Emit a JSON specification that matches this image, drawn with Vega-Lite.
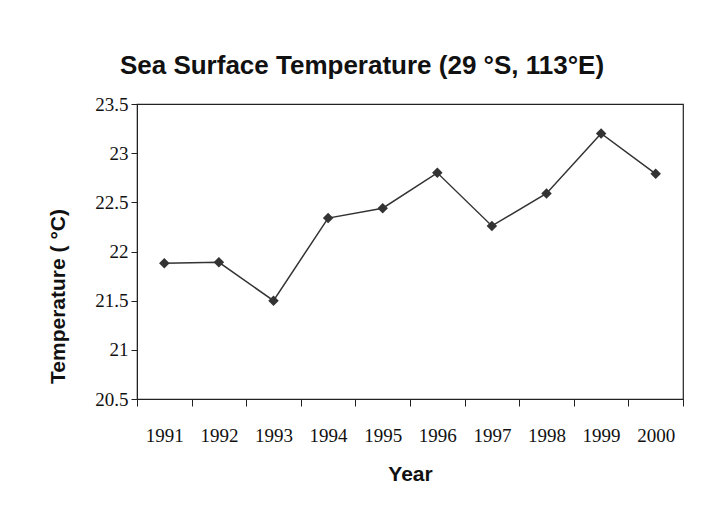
{
  "$schema": "https://vega.github.io/schema/vega-lite/v6.json",
  "width": 546,
  "height": 295,
  "autosize": {"type": "none"},
  "padding": {"left": 137, "top": 104, "right": 18, "bottom": 127},
  "background": "white",
  "title": {
    "text": "Sea Surface Temperature (29 °S, 113°E)",
    "font": "Liberation Sans",
    "fontSize": 26,
    "fontWeight": "bold",
    "color": "#111",
    "anchor": "middle",
    "offset": 16,
    "dx": -48
  },
  "config": {
    "view": {"stroke": "#222", "strokeWidth": 1.2},
    "axis": {
      "grid": false,
      "domainColor": "#222",
      "tickColor": "#222",
      "labelFont": "Liberation Serif",
      "labelFontSize": 19,
      "labelColor": "#111",
      "titleFont": "Liberation Sans",
      "titleFontSize": 21,
      "titleFontWeight": "bold",
      "titleColor": "#111"
    }
  },
  "data": {
    "values": [
      {"year": "1991", "temp": 21.88},
      {"year": "1992", "temp": 21.89},
      {"year": "1993", "temp": 21.5},
      {"year": "1994", "temp": 22.34},
      {"year": "1995", "temp": 22.44},
      {"year": "1996", "temp": 22.8},
      {"year": "1997", "temp": 22.26},
      {"year": "1998", "temp": 22.59},
      {"year": "1999", "temp": 23.2},
      {"year": "2000", "temp": 22.79}
    ]
  },
  "encoding": {
    "x": {
      "field": "year",
      "type": "ordinal",
      "title": "Year",
      "scale": {"paddingInner": 0, "paddingOuter": 0},
      "axis": {
        "labelAngle": 0,
        "tickBand": "extent",
        "tickSize": 7,
        "labelPadding": 20,
        "titlePadding": 18
      }
    },
    "y": {
      "field": "temp",
      "type": "quantitative",
      "title": "Temperature ( °C)",
      "scale": {"domain": [20.5, 23.5], "nice": false, "zero": false},
      "axis": {
        "values": [20.5, 21, 21.5, 22, 22.5, 23, 23.5],
        "format": "~g",
        "tickSize": 6,
        "labelPadding": 3,
        "titleX": -79,
        "titleY": 192,
        "titleAngle": -90,
        "titleAlign": "center",
        "titleBaseline": "middle"
      }
    }
  },
  "layer": [
    {"mark": {"type": "line", "color": "#333", "strokeWidth": 1.5}},
    {"mark": {"type": "point", "shape": "diamond", "filled": true, "color": "#333", "size": 110, "opacity": 1}}
  ]
}
